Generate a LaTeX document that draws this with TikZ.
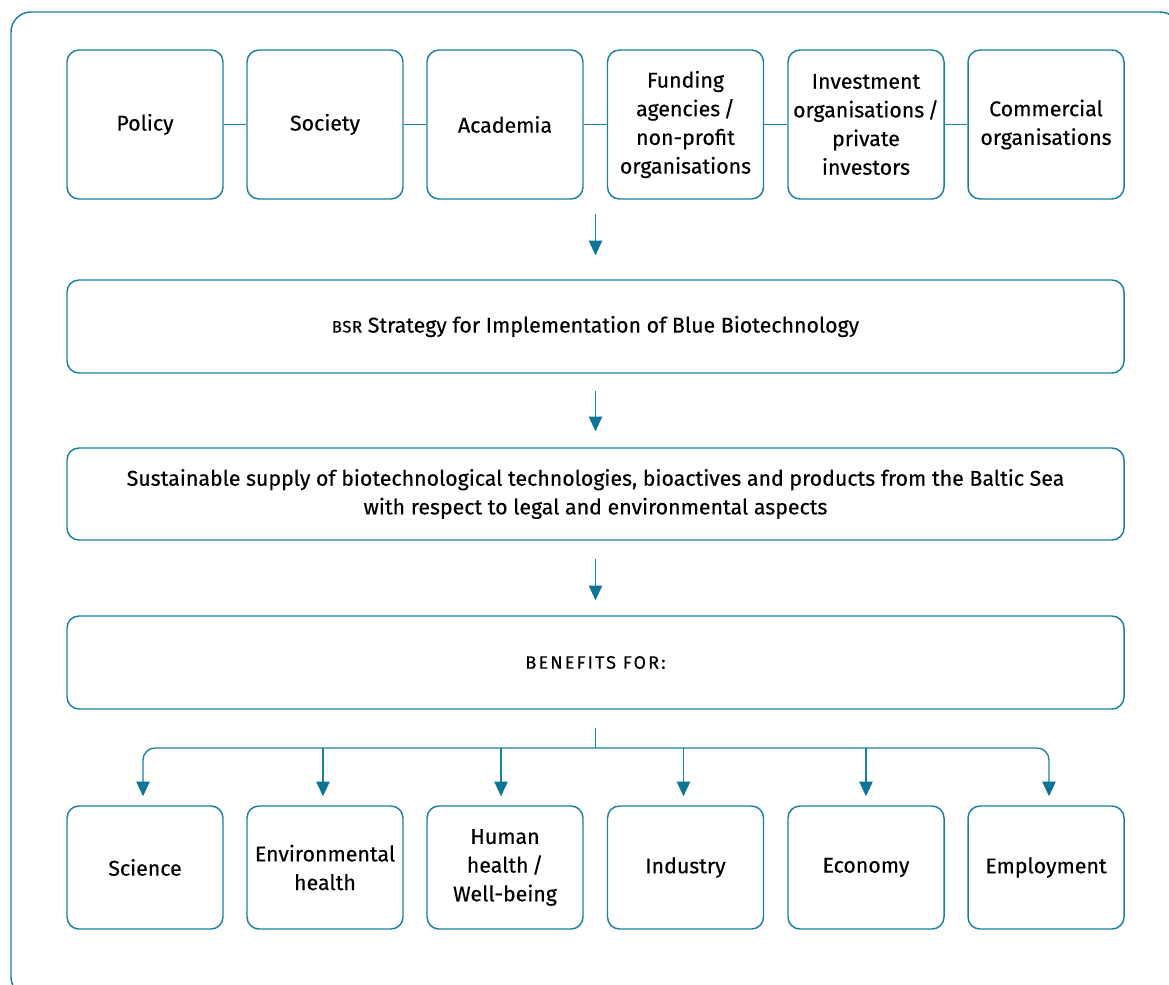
\documentclass[tikz,border=0pt]{standalone}
\usepackage{fontspec}
\setmainfont{Fira Sans}[FakeBold=0.35]
\usetikzlibrary{arrows.meta,calc}
\definecolor{bbline}{RGB}{26,128,162}
\definecolor{bbtip}{RGB}{12,116,148}
\newcommand{\mainfs}{\fontsize{16}{21.5}\selectfont}
\newcommand{\fakesc}[1]{{\fontsize{12.5}{14}\addfontfeature{LetterSpace=4}\selectfont #1}}
\begin{document}
\begin{tikzpicture}[x=0.75pt,y=-0.75pt,
  box/.style={draw=bbline, line width=1.1pt, rounded corners=9pt, align=center,
    inner sep=0pt, font=\mainfs, text=black},
  topbox/.style={box, minimum width=117pt, minimum height=111.75pt},
  botbox/.style={box, minimum width=117pt, minimum height=92.25pt},
  widebox/.style={box, minimum width=792.75pt, minimum height=69.75pt},
  conn/.style={draw=bbline, line width=1pt},
  arr/.style={conn, -{Triangle[width=10pt,length=11pt,color=bbtip]}}]
\useasboundingbox (0,0) rectangle (1169,984);
\begin{scope}
\clip (0,0) rectangle (1169,984);
\draw[bbline, line width=1.1pt, rounded corners=15pt] (11,12) rectangle (1180,997);
\end{scope}
% top row
\node[topbox] (pol) at (145,124.5) {Policy};
\node[topbox] (soc) at (325,124.5) {Society};
\node[topbox] (aca) at (505,124.5) {Academia};
\node[topbox] (fun) at (685.5,124.5) {Funding\\agencies\,/\\non-profit\\organisations};
\node[topbox] (inv) at (866,124.5) {Investment\\organisations\,/\\private\\investors};
\node[topbox] (com) at (1046,124.5) {Commercial\\organisations};
\draw[conn] (pol.east) -- (soc.west);
\draw[conn] (soc.east) -- (aca.west);
\draw[conn] (aca.east) -- (fun.west);
\draw[conn] (fun.east) -- (inv.west);
\draw[conn] (inv.east) -- (com.west);
% wide boxes
\node[widebox] (bsr) at (595.5,326.5) {\fakesc{BSR} Strategy for Implementation of Blue Biotechnology};
\node[widebox, minimum height=69pt] (sus) at (595.5,494) {Sustainable supply of biotechnological technologies, bioactives and products from the Baltic Sea\\with respect to legal and environmental aspects};
\node[widebox] (ben) at (595.5,662.5) {{\fontsize{13.5}{14}\addfontfeature{LetterSpace=12}\selectfont BENEFITS FOR:}};
\draw[arr, shorten <=10.5pt, shorten >=18pt] (bsr.north |- pol.south) -- (bsr.north);
\draw[arr, shorten <=12.75pt, shorten >=12pt] (bsr.south) -- (sus.north);
\draw[arr, shorten <=13.5pt, shorten >=11.25pt] (sus.south) -- (ben.north);
% bottom row
\node[botbox] (sci) at (145,867.5) {Science};
\node[botbox] (env) at (325,867.5) {Environmental\\health};
\node[botbox] (hum) at (505,867.5) {Human\\health\,/\\Well-being};
\node[botbox] (ind) at (685.5,867.5) {Industry};
\node[botbox] (eco) at (866,867.5) {Economy};
\node[botbox] (emp) at (1046,867.5) {Employment};
\coordinate (split) at (595.5,748);
\draw[conn, shorten <=13.5pt] (ben.south) -- (split);
\draw[arr, rounded corners=9pt, shorten >=6.75pt] (split) -| ([xshift=-1.5pt]sci.north);
\draw[arr, rounded corners=9pt, shorten >=6.75pt] (split) -| ([xshift=2.25pt]emp.north);
\draw[arr, shorten >=6.75pt] ([xshift=-1.5pt]env.north |- split) -- ([xshift=-1.5pt]env.north);
\draw[arr, shorten >=6.75pt] ([xshift=-3pt]hum.north |- split) -- ([xshift=-3pt]hum.north);
\draw[arr, shorten >=6.75pt] ([xshift=-1.5pt]ind.north |- split) -- ([xshift=-1.5pt]ind.north);
\draw[arr, shorten >=6.75pt] (eco.north |- split) -- (eco.north);
\end{tikzpicture}
\end{document}
